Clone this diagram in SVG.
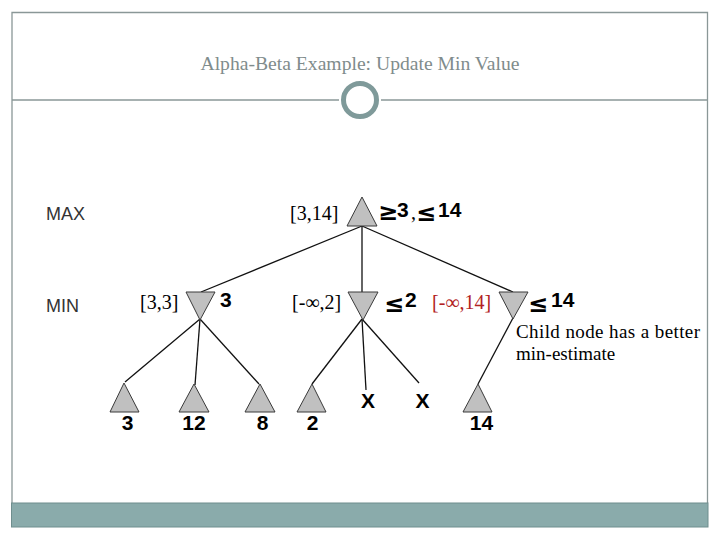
<svg xmlns="http://www.w3.org/2000/svg" width="720" height="540" viewBox="0 0 720 540">
<style>
.frame{fill:none;stroke:#8a9797;stroke-width:1.3}
.tri{fill:#c0c0c0;stroke:#3a3a3a;stroke-width:1}
.edge{stroke:#111;stroke-width:1.3;fill:none}
.lvl{font-family:"Liberation Sans",Arial,sans-serif;font-size:18px;fill:#333}
.val{font-family:"Liberation Sans",Arial,sans-serif;font-size:21px;font-weight:bold;fill:#000}
.sym{font-family:"DejaVu Sans","Liberation Sans",sans-serif;font-size:24px;font-weight:bold;fill:#000}
.rng{font-family:"Liberation Serif","Times New Roman",serif;font-size:20px;fill:#000}
.note{font-family:"Liberation Serif","Times New Roman",serif;font-size:19px;fill:#000}
</style>
<rect width="720" height="540" fill="#fff"/>
<g id="frame">
<path class="frame" d="M12,503 V12.5 H707.5 V503"/>
<line class="frame" x1="12" y1="100" x2="339" y2="100"/>
<line class="frame" x1="381" y1="100" x2="707.5" y2="100"/>
<circle cx="360" cy="100" r="16.5" fill="none" stroke="#7f9a9a" stroke-width="5"/>
<rect x="11.5" y="503" width="696.5" height="24" fill="#8aabab" stroke="#6f8e8e" stroke-width="1"/>
</g>
<text x="360" y="70" text-anchor="middle" font-family="Liberation Serif,'Times New Roman',serif" font-size="19.5" fill="#7f8c8c" textLength="319" lengthAdjust="spacingAndGlyphs">Alpha-Beta Example: Update Min Value</text>
<text class="lvl" x="46" y="220">MAX</text>
<text class="lvl" x="46" y="312">MIN</text>
<g id="connectors">
<line class="edge" x1="362" y1="226" x2="201" y2="292"/>
<line class="edge" x1="362" y1="226" x2="362" y2="292"/>
<line class="edge" x1="362" y1="226" x2="513" y2="292"/>
<line class="edge" x1="200" y1="319" x2="125" y2="382"/>
<line class="edge" x1="200" y1="319" x2="195" y2="385"/>
<line class="edge" x1="200" y1="319" x2="259" y2="384"/>
<line class="edge" x1="362" y1="319" x2="312" y2="384"/>
<line class="edge" x1="362" y1="319" x2="366" y2="390"/>
<line class="edge" x1="362" y1="319" x2="419" y2="383"/>
<line class="edge" x1="513" y1="318" x2="478" y2="384"/>
</g>
<g id="max-root">
<polygon class="tri" points="362,197 347,226 377,226"/>
<text class="rng" x="290" y="220">[3,14]</text>
<text class="sym" x="378" y="220">≥</text>
<text class="val" x="397" y="217">3</text>
<text class="rng" x="411" y="219">,</text>
<text class="sym" x="416" y="221">≤</text>
<text class="val" x="438" y="217">14</text>
</g>
<g id="min-left">
<polygon class="tri" points="186,292 215,292 200,320"/>
<text class="rng" x="140" y="309">[3,3]</text>
<text class="val" x="220" y="307">3</text>
</g>
<g id="min-mid">
<polygon class="tri" points="348,292 378,292 363,320"/>
<text class="rng" x="292" y="309">[-∞,2]</text>
<text class="sym" x="384" y="312">≤</text>
<text class="val" x="405" y="307">2</text>
</g>
<g id="min-right">
<polygon class="tri" points="499,292 528,292 513,319"/>
<text class="rng" x="432" y="309" style="fill:#b22222">[-∞,14]</text>
<text class="sym" x="528" y="312">≤</text>
<text class="val" x="551" y="307">14</text>
</g>
<g id="leaf-3">
<polygon class="tri" points="124,383 110,412 139,412"/>
<text class="val" x="127.5" y="430" text-anchor="middle">3</text>
</g>
<g id="leaf-12">
<polygon class="tri" points="194,384 179,412 209,412"/>
<text class="val" x="194" y="430" text-anchor="middle">12</text>
</g>
<g id="leaf-8">
<polygon class="tri" points="260,384 245,412 275,412"/>
<text class="val" x="262.5" y="430" text-anchor="middle">8</text>
</g>
<g id="leaf-2">
<polygon class="tri" points="312,384 297,412 326,412"/>
<text class="val" x="312.5" y="430" text-anchor="middle">2</text>
</g>
<g id="leaf-x1">
<text class="val" x="368" y="408" text-anchor="middle">X</text>
</g>
<g id="leaf-x2">
<text class="val" x="422.5" y="408" text-anchor="middle">X</text>
</g>
<g id="leaf-14">
<polygon class="tri" points="478,384 463,412 492,412"/>
<text class="val" x="481.5" y="430" text-anchor="middle">14</text>
</g>
<g id="note">
<text class="note" x="516" y="338" textLength="184" lengthAdjust="spacing">Child node has a better</text>
<text class="note" x="516" y="360">min-estimate</text>
</g>
</svg>
